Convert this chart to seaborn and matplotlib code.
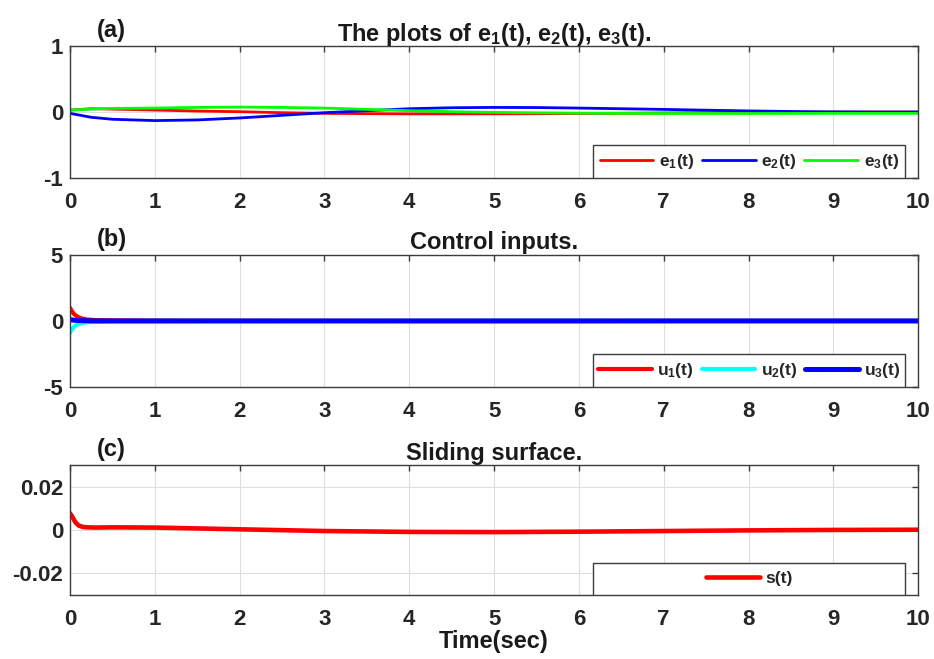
"""Error states, control inputs and sliding surface (three stacked panels)."""

import matplotlib

matplotlib.use("Agg")

import matplotlib.pyplot as plt
import seaborn as sns
from matplotlib.patches import Rectangle

# ---- data ----
t_err = [0, 0.25, 0.5, 1, 1.5, 2, 2.5, 3, 3.5, 4, 4.5, 5, 5.5, 6, 6.5, 7, 7.5, 8, 8.5, 9, 9.5, 10]
e1 = [0.03, 0.05, 0.045, 0.03, 0.015, 0.005, -0.01, -0.02, -0.025, -0.028, -0.028, -0.027,
      -0.025, -0.022, -0.018, -0.014, -0.01, -0.006, -0.003, -0.001, 0.0, 0.0]
e2 = [-0.02, -0.08, -0.11, -0.13, -0.12, -0.09, -0.05, -0.01, 0.02, 0.05, 0.065, 0.07,
      0.068, 0.06, 0.05, 0.04, 0.028, 0.017, 0.008, 0.002, 0.0, 0.0]
e3 = [0.03, 0.045, 0.055, 0.06, 0.07, 0.075, 0.07, 0.06, 0.04, 0.02, 0.005, -0.005,
      -0.012, -0.017, -0.02, -0.022, -0.022, -0.022, -0.021, -0.02, -0.02, -0.02]

t_u = [0, 0.02, 0.05, 0.1, 0.15, 0.2, 0.3, 0.5, 1, 2, 3, 4, 5, 6, 7, 8, 9, 10]
u1 = [1.0, 0.75, 0.5, 0.28, 0.17, 0.11, 0.06, 0.04, 0.02, 0.01, 0, -0.01, -0.01, -0.01, 0, 0, 0, 0]
u2 = [-0.9, -0.65, -0.42, -0.24, -0.15, -0.1, -0.06, -0.04, -0.03, -0.02, -0.01, 0, 0.01, 0.01, 0, 0, 0, 0]
u3 = [0.1, 0.08, 0.05, 0.03, 0.02, 0.01, 0, 0, 0, 0, 0, 0, 0, 0, 0, 0, 0, 0]

t_s = [0, 0.03, 0.06, 0.1, 0.15, 0.2, 0.3, 0.5, 1, 1.5, 2, 3, 4, 5, 6, 7, 8, 9, 10]
s = [0.0078, 0.006, 0.0038, 0.0022, 0.0015, 0.0013, 0.0012, 0.0013, 0.0012, 0.0008, 0.0004,
     -0.0004, -0.0008, -0.0009, -0.0007, -0.0004, -0.0001, 0.0001, 0.0002]

x_ticks = [0, 1, 2, 3, 4, 5, 6, 7, 8, 9, 10]
y_ticks_a = [-1, 0, 1]
y_ticks_b = [-5, 0, 5]
y_ticks_c = [-0.02, 0, 0.02]
y_labels_c = ["-0.02", "0", "0.02"]

# ---- style ----
sns.set_theme(style="white")
plt.rcParams["font.family"] = ["Liberation Sans", "DejaVu Sans"]
plt.rcParams["font.weight"] = "bold"
plt.rcParams["axes.unicode_minus"] = False
plt.rcParams["mathtext.fontset"] = "custom"
plt.rcParams["mathtext.rm"] = "Liberation Sans:bold"
plt.rcParams["mathtext.it"] = "Liberation Sans:bold"
plt.rcParams["mathtext.bf"] = "Liberation Sans:bold"
plt.rcParams["mathtext.default"] = "rm"

AX_COLOR = "#3c3c3c"
TICK_FS = 16
TITLE_FS = 17
LEG_FS = 12.5

fig = plt.figure(figsize=(9.34, 6.59), dpi=100)
ax_a = fig.add_axes([0.075, 0.730, 0.908, 0.200])
ax_b = fig.add_axes([0.075, 0.413, 0.908, 0.200])
ax_c = fig.add_axes([0.075, 0.097, 0.908, 0.197])


def style_axes(ax, yticks, ylabels=None):
    ax.set_xlim(0, 10)
    ax.set_xticks(x_ticks)
    ax.set_xticklabels([str(v) for v in x_ticks])
    ax.set_yticks(yticks)
    ax.set_yticklabels(ylabels if ylabels else [str(v) for v in yticks])
    ax.grid(True, color="#dedede", linewidth=0.8)
    ax.set_axisbelow(True)
    for sp in ax.spines.values():
        sp.set_visible(True)
        sp.set_color(AX_COLOR)
        sp.set_linewidth(1.0)
    ax.tick_params(axis="both", direction="in", length=4.5, width=1.0, color=AX_COLOR,
                   top=True, right=True, labelsize=TICK_FS, labelcolor="#262626")
    ax.tick_params(axis="x", pad=10)
    ax.tick_params(axis="y", pad=5)
    for lab in ax.get_xticklabels() + ax.get_yticklabels():
        lab.set_fontweight("bold")
    ax.set_xlabel("")
    ax.set_ylabel("")


def boxed_legend(ax, ncol, handlelength):
    # white frame in the lower right, legend entries centred in it
    box = (0.617, 0.0, 0.368, 0.25)
    ax.add_patch(Rectangle(box[:2], box[2], box[3], transform=ax.transAxes,
                           facecolor="white", edgecolor=AX_COLOR, linewidth=1.0, zorder=4.5))
    leg = ax.legend(loc="center", bbox_to_anchor=box, ncol=ncol, frameon=False,
                    fontsize=LEG_FS, handlelength=handlelength, handletextpad=0.3,
                    columnspacing=0.45, borderpad=0.2)
    leg.set_zorder(5)
    for txt in leg.get_texts():
        txt.set_fontweight("bold")
        txt.set_color("#262626")


def panel_title(ax, tag, title):
    ax.set_title(title, fontsize=TITLE_FS, fontweight="bold", color="#1a1a1a", pad=4)
    ax.text(0.032, 1.0 + 4 / 132, tag, transform=ax.transAxes, fontsize=TITLE_FS,
            fontweight="bold", color="#1a1a1a", ha="left", va="bottom")


# (a) errors
sns.lineplot(x=t_err, y=e1, ax=ax_a, color="#ff0000", linewidth=2.0, label="e$_1$(t)")
sns.lineplot(x=t_err, y=e2, ax=ax_a, color="#0000ff", linewidth=2.0, label="e$_2$(t)")
sns.lineplot(x=t_err, y=e3, ax=ax_a, color="#00ff00", linewidth=2.0, label="e$_3$(t)")
ax_a.set_ylim(-1, 1)
style_axes(ax_a, y_ticks_a)
boxed_legend(ax_a, 3, 3.1)
panel_title(ax_a, "(a)", "The plots of e$_1$(t), e$_2$(t), e$_3$(t).")

# (b) control inputs
sns.lineplot(x=t_u, y=u1, ax=ax_b, color="#ff0000", linewidth=3.0, label="u$_1$(t)")
sns.lineplot(x=t_u, y=u2, ax=ax_b, color="#00ffff", linewidth=3.0, label="u$_2$(t)")
sns.lineplot(x=t_u, y=u3, ax=ax_b, color="#0000ff", linewidth=3.6, label="u$_3$(t)")
ax_b.set_ylim(-5, 5)
style_axes(ax_b, y_ticks_b)
boxed_legend(ax_b, 3, 3.1)
panel_title(ax_b, "(b)", "Control inputs.")

# (c) sliding surface
sns.lineplot(x=t_s, y=s, ax=ax_c, color="#ff0000", linewidth=3.3, label="s(t)")
ax_c.set_ylim(-0.03, 0.03)
style_axes(ax_c, y_ticks_c, y_labels_c)
boxed_legend(ax_c, 1, 3.1)
panel_title(ax_c, "(c)", "Sliding surface.")
ax_c.set_xlabel("Time(sec)", fontsize=17, fontweight="bold", color="#1a1a1a", labelpad=0)

fig.savefig("out.png", dpi=100)
plt.close(fig)
